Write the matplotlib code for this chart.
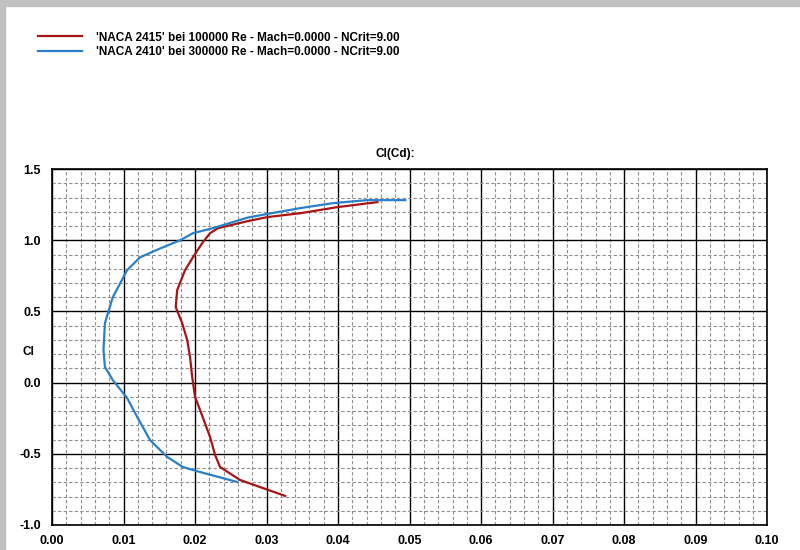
import numpy as np
import matplotlib
matplotlib.use("Agg")
import matplotlib.pyplot as plt
from matplotlib.patches import Rectangle

plt.rcParams['font.family'] = ['Liberation Sans', 'DejaVu Sans']

# NACA 2415 bei 100000 Re
cd_2415 = [0.0326, 0.0263, 0.0235, 0.0228, 0.0221, 0.0207, 0.0200, 0.0196, 0.0193,
           0.0189, 0.0182, 0.0173, 0.0175, 0.0186, 0.0197, 0.0210, 0.0221, 0.0232,
           0.0253, 0.0274, 0.0301, 0.0347, 0.0399, 0.0455]
cl_2415 = [-0.796, -0.684, -0.593, -0.508, -0.382, -0.192, -0.10, 0.04, 0.18,
           0.30, 0.418, 0.53, 0.65, 0.79, 0.88, 0.98, 1.05, 1.085,
           1.11, 1.135, 1.163, 1.19, 1.233, 1.268]

# NACA 2410 bei 300000 Re
cd_2410 = [0.0259, 0.0207, 0.0183, 0.0161, 0.0137, 0.0119, 0.0105, 0.0085, 0.0074,
           0.0072, 0.0074, 0.0085, 0.0105, 0.0123, 0.0150, 0.0179, 0.0197, 0.0225,
           0.0253, 0.0274, 0.0300, 0.0347, 0.0393, 0.0440, 0.0494]
cl_2410 = [-0.698, -0.628, -0.593, -0.522, -0.403, -0.24, -0.108, 0.018, 0.11,
           0.23, 0.418, 0.60, 0.79, 0.88, 0.94, 1.0, 1.05, 1.085,
           1.128, 1.16, 1.184, 1.226, 1.261, 1.282, 1.282]

labels = ["'NACA 2415' bei 100000 Re - Mach=0.0000 - NCrit=9.00",
          "'NACA 2410' bei 300000 Re - Mach=0.0000 - NCrit=9.00"]
x_ticks = [0.00, 0.01, 0.02, 0.03, 0.04, 0.05, 0.06, 0.07, 0.08, 0.09, 0.10]
y_ticks = [-1.0, -0.5, 0.0, 0.5, 1.0, 1.5]

fig = plt.figure(figsize=(8, 5.5), dpi=100)

# window frame
fig.patches.append(Rectangle((0, 0.99), 1, 0.01, transform=fig.transFigure,
                             color='#c0c0c0', zorder=0))
fig.patches.append(Rectangle((0, 0), 0.006, 1, transform=fig.transFigure,
                             color='#c0c0c0', zorder=0))

ax = fig.add_axes([0.065, 0.0455, 0.894, 0.647])
ax.plot(cd_2415, cl_2415, color='#a81414', lw=1.6, label=labels[0])
ax.plot(cd_2410, cl_2410, color='#2a80c8', lw=1.6, label=labels[1])

ax.set_xlim(0, 0.1)
ax.set_ylim(-1.0, 1.5)
ax.set_xticks(x_ticks)
ax.set_yticks(y_ticks)
ax.set_xticks(np.arange(0, 0.1001, 0.002), minor=True)
ax.set_yticks(np.arange(-1.0, 1.501, 0.1), minor=True)
ax.grid(which='major', color='black', lw=1.0, ls='-')
ax.grid(which='minor', color='#909090', lw=0.8, ls=(0, (3, 2)))
ax.set_axisbelow(True)
ax.tick_params(which='both', length=0)
ax.tick_params(axis='x', pad=7)
ax.tick_params(axis='y', pad=8)
ax.set_xticklabels(['%.2f' % v for v in x_ticks], fontweight='bold', fontsize=9)
ax.set_yticklabels(['%.1f' % v for v in y_ticks], fontweight='bold', fontsize=9)
for s in ax.spines.values():
    s.set_color('black')
    s.set_linewidth(1.2)

fig.text(0.494, 0.715, "Cl(Cd):", fontsize=8.5, fontweight='bold', ha='center')
fig.text(0.035, 0.36, "Cl", fontsize=8.5, fontweight='bold', ha='center', va='center')

fig.legend(loc='upper left', bbox_to_anchor=(0.034, 0.962), frameon=False,
           prop={'size': 8.5, 'weight': 'bold'}, handlelength=3.7,
           handletextpad=1.2, labelspacing=0.2)

fig.savefig('out.png', dpi=100)
